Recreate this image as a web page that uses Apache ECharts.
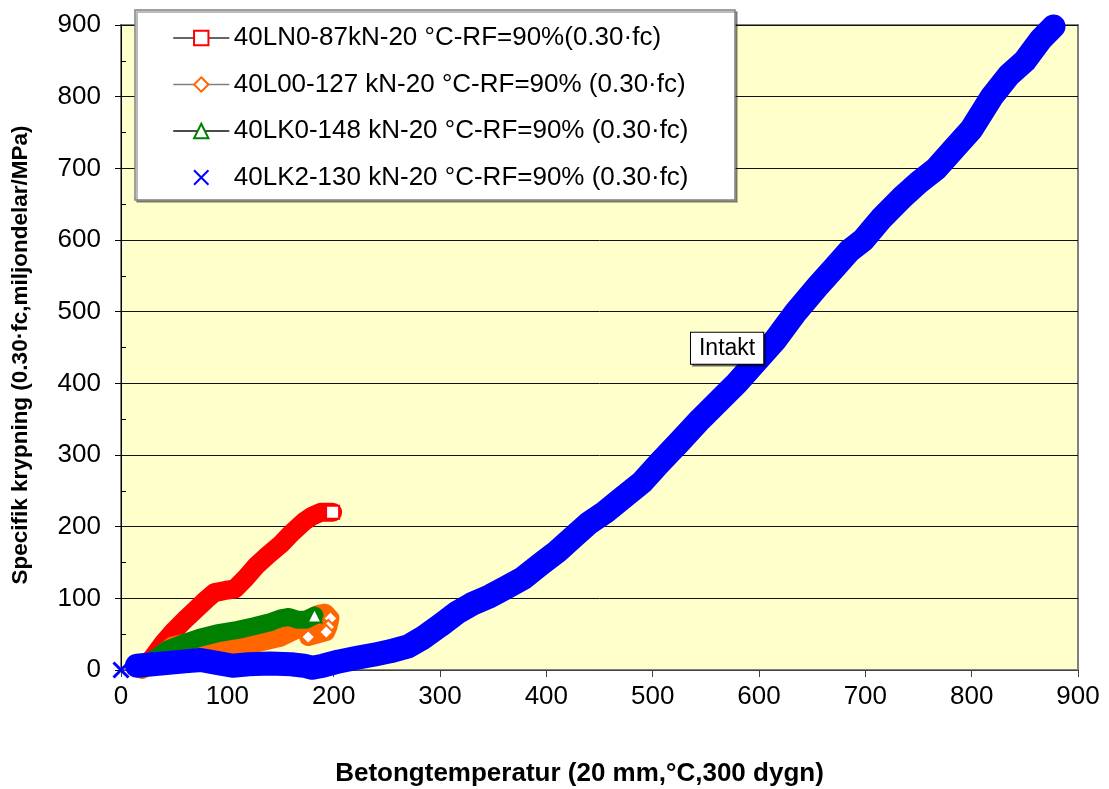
<!DOCTYPE html>
<html>
<head>
<meta charset="utf-8">
<script src="https://cdn.jsdelivr.net/npm/echarts@6/dist/echarts.min.js"></script>
<style>
html,body{margin:0;padding:0;background:#fff;}
#chart{width:1109px;height:789px;}
</style>
</head>
<body>
<div id="chart"></div>
<script>
// ---- data ----
const xTicks = [0,100,200,300,400,500,600,700,800,900];
const yTicks = [0,100,200,300,400,500,600,700,800,900];
const seriesNames = [
  '40LN0-87kN-20 °C-RF=90%(0.30·fc)',
  '40L00-127 kN-20 °C-RF=90% (0.30·fc)',
  '40LK0-148 kN-20 °C-RF=90% (0.30·fc)',
  '40LK2-130 kN-20 °C-RF=90% (0.30·fc)'
];
const red40LN0 = [[20,2],[30,18],[40,38],[50,55],[60,70],[70,84],[80,98],[88,108],[98,111],[107,113],[117,128],[127,145],[138,160],[150,175],[161,192],[172,207],[180,215],[188,220],[199,220]];
const orange40L00 = [[20,0],[35,18],[48,34],[60,38],[75,34],[90,32],[110,34],[130,38],[150,45],[165,56],[175,66],[185,78],[192,80],[197,72],[195,60],[193,53],[176,46]];
const green40LK0 = [[20,2],[30,14],[43,28],[60,38],[74,45],[90,51],[110,56],[125,61],[141,67],[150,72],[158,74],[166,70],[174,70],[182,76]];
const blue40LK2 = [[0,0],[8,'-'],[15,6],[30,8],[45,10],[60,12],[75,14],[90,10],[105,6],[120,8],[140,9],[160,8],[172,6],[180,3],[190,6],[205,12],[222,17],[240,22],[253,26],[270,33],[284,45],[300,62],[316,80],[330,92],[347,103],[362,115],[378,128],[395,148],[410,165],[425,185],[440,205],[455,220],[470,238],[490,262],[507,290],[525,318],[545,350],[562,375],[579,400],[597,430],[615,460],[635,500],[655,535],[670,560],[685,585],[698,600],[715,630],[735,660],[750,680],[767,700],[785,730],[800,755],[819,800],[835,830],[850,850],[865,880],[877,898]];
const annotation = {text:'Intakt', x:570, y:449};

const chart = echarts.init(document.getElementById('chart'), null, {renderer:'canvas'});
const FONT = '"Liberation Sans", Arial, sans-serif';
const colors = ['#FF0000','#FF6600','#008000','#0000FF'];
const XPATH = 'path://M0,0L10,10M10,0L0,10';

function lastOnly(n, size){ return (v, p) => (p.dataIndex >= n ? size : 0); }

const option = {
  animation:false,
  backgroundColor:'#ffffff',
  textStyle:{fontFamily:FONT},
  grid:{left:121,right:31,top:25,bottom:119,outerBoundsMode:'none',containLabel:false,show:true,backgroundColor:'#FFFFCC',borderColor:'#808080',borderWidth:2},
  xAxis:{
    type:'value',min:0,max:900,interval:100,
    name:'Betongtemperatur (20 mm,°C,300 dygn)',nameLocation:'middle',nameGap:91,
    nameTextStyle:{fontSize:26,fontWeight:'bold',color:'#000',fontFamily:FONT,padding:[0,40,0,0]},
    axisLine:{show:true,onZero:false,lineStyle:{color:'#404040',width:1}},
    axisTick:{show:true,length:7,lineStyle:{color:'#404040'}},
    axisLabel:{fontSize:26,color:'#000',margin:14,fontFamily:FONT,formatter:(v)=>String(xTicks[Math.round(v/100)])},
    splitLine:{show:false}
  },
  yAxis:[{
    type:'value',min:0,max:900,interval:100,
    name:'Specifik krypning (0.30·fc,miljondelar/MPa)',nameLocation:'middle',nameGap:89,nameRotate:90,
    nameTextStyle:{fontSize:22.5,fontWeight:'bold',color:'#000',fontFamily:FONT,padding:[0,15,0,0]},
    axisLine:{show:true,onZero:false,lineStyle:{color:'#000',width:1}},
    axisTick:{show:true,length:6,lineStyle:{color:'#000'}},
    axisLabel:{fontSize:26,color:'#000',margin:20,fontFamily:FONT,formatter:(v)=>String(yTicks[Math.round(v/100)])},
    splitLine:{show:true,lineStyle:{color:'#111',width:1}}
  },{
    type:'value',min:0,max:900,interval:100,position:'left',
    axisLine:{show:false},
    axisTick:{show:true,inside:true,length:5,lineStyle:{color:'#000'},customValues:[50,150,250,350,450,550,650,750,850]},
    axisLabel:{show:false},
    splitLine:{show:false}
  }],
  graphic:[{
    type:'rect',z:3,
    shape:{x:135,y:10,width:600,height:190},
    style:{fill:'#ffffff',stroke:'#808080',lineWidth:1.5,shadowColor:'rgba(0,0,0,0.35)',shadowOffsetX:2,shadowOffsetY:2}
  }],
  legend:{
    orient:'vertical',left:173,top:25,padding:0,itemGap:20.5,itemWidth:55,itemHeight:18,z:5,
    textStyle:{fontSize:26,color:'#000',fontFamily:FONT},
    selectedMode:false,
    data:[
      {name:seriesNames[0],lineStyle:{color:'#333',width:1.5}},
      {name:seriesNames[1],lineStyle:{color:'#808080',width:1.5}},
      {name:seriesNames[2],lineStyle:{color:'#111',width:1.5}},
      {name:seriesNames[3],lineStyle:{color:'rgba(0,0,0,0)',width:1}}
    ]
  },
  series:[
    {name:seriesNames[0],type:'line',data:red40LN0,clip:false,
     symbol:'emptyRect',symbolSize:lastOnly(red40LN0.length-1,13),
     itemStyle:{color:colors[0],borderColor:colors[0],borderWidth:3},
     lineStyle:{color:colors[0],width:19,cap:'round',join:'round'}},
    {name:seriesNames[1],type:'line',data:orange40L00,clip:false,
     symbol:'emptyDiamond',symbolSize:lastOnly(orange40L00.length-4,14),
     itemStyle:{color:colors[1],borderColor:colors[1],borderWidth:3},
     lineStyle:{color:colors[1],width:18,cap:'round',join:'round'}},
    {name:seriesNames[2],type:'line',data:green40LK0,clip:false,
     symbol:'emptyTriangle',symbolSize:lastOnly(green40LK0.length-1,14),
     itemStyle:{color:colors[2],borderColor:colors[2],borderWidth:3},
     lineStyle:{color:colors[2],width:18,cap:'round',join:'round'}},
    {name:seriesNames[3],type:'line',data:blue40LK2,clip:false,connectNulls:false,
     symbol:XPATH,symbolSize:(v,p)=>(p.dataIndex===0?15:0),
     itemStyle:{color:colors[3],borderColor:colors[3],borderWidth:3},
     lineStyle:{color:colors[3],width:24,cap:'round',join:'round'},
     markPoint:{
       symbol:'rect',symbolSize:1,itemStyle:{color:'rgba(0,0,0,0)'},
       label:{show:true,position:'inside',formatter:annotation.text,fontSize:23,color:'#000',fontFamily:FONT,
              backgroundColor:'#fff',borderColor:'#000',borderWidth:1,padding:[5,8,3,8],
              shadowColor:'rgba(0,0,0,0.4)',shadowOffsetX:2,shadowOffsetY:2},
       data:[{coord:[annotation.x,annotation.y]}]
     }}
  ]
};
chart.setOption(option);
</script>
</body>
</html>
